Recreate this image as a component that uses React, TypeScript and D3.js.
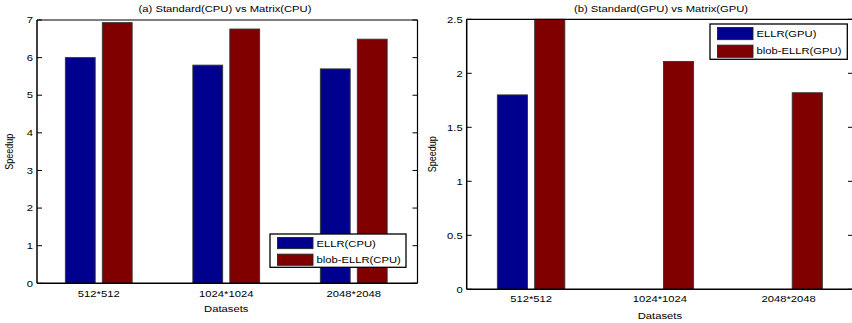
import React from "react";
import * as d3 from "d3";

const categories = ["512*512", "1024*1024", "2048*2048"];
const cpuSeriesNames = ["ELLR(CPU)", "blob-ELLR(CPU)"];
const cpuEllr = [6.0, 5.8, 5.7];
const cpuBlob = [6.93, 6.76, 6.49];
const cpuTicks = [0, 1, 2, 3, 4, 5, 6, 7];

const gpuSeriesNames = ["ELLR(GPU)", "blob-ELLR(GPU)"];
const gpuEllr = [1.8, 0, 0];
const gpuBlob = [2.5, 2.11, 1.82];
const gpuTicks = [0, 0.5, 1, 1.5, 2, 2.5];

const COLORS = ["#00008F", "#800000"];
const FONT = "'Liberation Sans', Arial, Helvetica, sans-serif";
const FS = 9;
const SX = 1.25;

function T({ x, y, anchor = "start", children, rotate = false }: any) {
  const tr = rotate
    ? `translate(${x},${y}) rotate(-90) scale(1,${SX})`
    : `translate(${x},${y}) scale(${SX},1)`;
  return (
    <text transform={tr} textAnchor={anchor} fontFamily={FONT} fontSize={FS} fill="#000">
      {children}
    </text>
  );
}

function Panel({ title, names, s1, s2, ticks, yMax, box, xRange, legend, tickFmt, titleX, xLabelY, tickLabelY, ylabelX }: any) {
  const [left, top, right, bottom] = box;
  const x = d3.scaleLinear().domain([0.5, 3.5]).range(xRange);
  const y = d3.scaleLinear().domain([0, yMax]).range([bottom, top]);
  const unit = x(1) - x(0);
  const bw = 0.234 * unit;
  const off = 0.145 * unit;
  const series = [s1, s2];
  const [lx0, ly0, lx1, ly1] = legend;
  const rowH = (ly1 - ly0) / 2;
  return (
    <g>
      <T x={titleX} y={12} anchor="middle">{title}</T>
      {series.map((s: number[], si: number) =>
        s.map((v, i) => {
          const cx = x(i + 1) + (si === 0 ? -off : off);
          return (
            <rect key={`${si}-${i}`} x={cx - bw / 2} y={y(v)} width={bw} height={Math.max(0, bottom - y(v))}
              fill={COLORS[si]} stroke="#333" strokeWidth={0.9} />
          );
        })
      )}
      <line x1={left} x2={right} y1={top} y2={top} stroke="#000" strokeWidth={1.2} />
      <line x1={left} x2={right} y1={bottom} y2={bottom} stroke="#000" strokeWidth={1.5} />
      <line x1={left} x2={left} y1={top} y2={bottom} stroke="#000" strokeWidth={1.5} />
      <line x1={right} x2={right} y1={top} y2={bottom} stroke="#000" strokeWidth={1.2} />
      {ticks.map((t: number) => (
        <g key={t}>
          <line x1={left} x2={left + 5} y1={y(t)} y2={y(t)} stroke="#000" strokeWidth={1} />
          <line x1={right - 5} x2={right} y1={y(t)} y2={y(t)} stroke="#000" strokeWidth={1} />
          <T x={left - 4} y={y(t) + 3.2} anchor="end">{tickFmt(t)}</T>
        </g>
      ))}
      {categories.map((c, i) => (
        <T key={c} x={x(i + 1)} y={tickLabelY} anchor="middle">{c}</T>
      ))}
      <T x={x(2)} y={xLabelY} anchor="middle">Datasets</T>
      <T x={ylabelX} y={(top + bottom) / 2} anchor="middle" rotate>Speedup</T>
      <rect x={lx0} y={ly0} width={lx1 - lx0} height={ly1 - ly0} fill="#fff" stroke="#000" strokeWidth={1.3} />
      {names.map((n: string, i: number) => (
        <g key={n}>
          <rect x={lx0 + 7.5} y={ly0 + 3.5 + i * rowH} width={35.5} height={rowH - 5.5} fill={COLORS[i]} stroke="#222" strokeWidth={0.9} />
          <T x={lx0 + 46.5} y={ly0 + 12.5 + i * rowH}>{n}</T>
        </g>
      ))}
    </g>
  );
}

export default function App() {
  return (
    <svg width={852} height={323} style={{ position: "absolute", left: 0, top: 0, background: "#fff" }}>
      <rect x={0} y={0} width={852} height={323} fill="#fff" />
      <Panel
        title="(a) Standard(CPU) vs Matrix(CPU)"
        names={cpuSeriesNames}
        s1={cpuEllr}
        s2={cpuBlob}
        ticks={cpuTicks}
        yMax={7}
        box={[37, 20, 417.5, 283.3]}
        xRange={[35, 417.5]}
        legend={[270, 234, 406, 267.3]}
        tickFmt={(t: number) => String(t)}
        titleX={225}
        tickLabelY={296.5}
        xLabelY={312}
        ylabelX={13}
      />
      <Panel
        title="(b) Standard(GPU) vs Matrix(GPU)"
        names={gpuSeriesNames}
        s1={gpuEllr}
        s2={gpuBlob}
        ticks={gpuTicks}
        yMax={2.5}
        box={[466.7, 19.3, 853, 289.3]}
        xRange={[466.7, 853]}
        legend={[710, 24, 847.3, 59.3]}
        tickFmt={(t: number) => String(t)}
        titleX={661}
        tickLabelY={301.5}
        xLabelY={319}
        ylabelX={436}
      />
    </svg>
  );
}
